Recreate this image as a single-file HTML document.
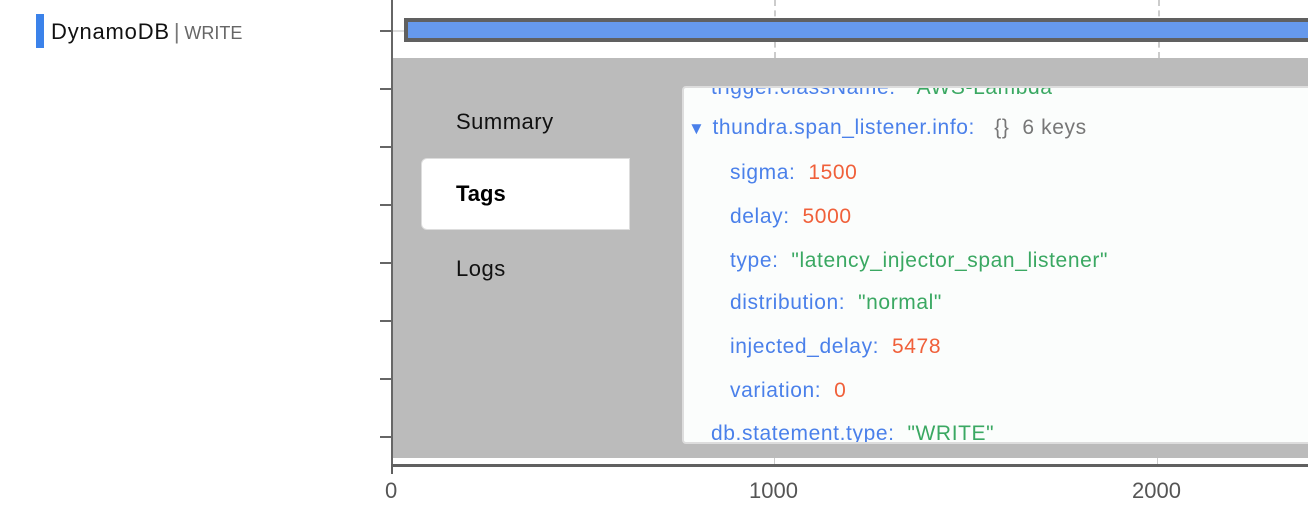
<!DOCTYPE html>
<html><head><style>
body{margin:0;width:1308px;height:530px;overflow:hidden;background:#fff;font-family:"Liberation Sans",sans-serif;position:relative}
.a{position:absolute}
.t{position:absolute;left:380px;width:12px;height:2px;background:#666}
.l{position:absolute;font-size:21px;letter-spacing:0.6px;white-space:nowrap;line-height:24px}
.k{color:#4a80ea}.g{color:#3aa862}.o{color:#f0603a}.n{color:#777}
</style></head><body>
<div class="a" style="left:36px;top:14px;width:8px;height:34px;background:#3b82ea"></div>
<div class="a" style="left:51px;top:17px;font-size:22px;letter-spacing:0.8px;color:#111;line-height:30px">DynamoDB<span style="color:#777;margin:0 4px">|</span><span style="color:#666;font-size:18px;letter-spacing:0">WRITE</span></div>
<div class="a" style="left:391px;top:0;width:2px;height:466px;background:#666"></div>
<div class="t" style="top:30px"></div><div class="t" style="top:88px"></div><div class="t" style="top:146px"></div><div class="t" style="top:204px"></div><div class="t" style="top:262px"></div><div class="t" style="top:320px"></div><div class="t" style="top:378px"></div><div class="t" style="top:436px"></div>
<div class="a" style="left:774px;top:0;height:58px;border-left:2px dashed #ccc"></div>
<div class="a" style="left:1158px;top:0;height:58px;border-left:2px dashed #ccc"></div>
<div class="a" style="left:393px;top:30px;width:12px;border-top:2px dashed #ddd"></div>
<div class="a" style="left:404px;top:18px;width:910px;height:16px;background:#6699ec;border:4px solid #606060"></div>
<div class="a" style="left:393px;top:58px;width:915px;height:400px;background:#bbb"></div>
<div class="a" style="left:456px;top:109px;font-size:22px;letter-spacing:0.5px;color:#111">Summary</div>
<div class="a" style="left:421px;top:158px;width:209px;height:72px;background:#fff;border-radius:6px 0 0 6px;border:1px solid #ddd;box-sizing:border-box"></div>
<div class="a" style="left:456px;top:181px;font-size:22px;color:#000;font-weight:bold">Tags</div>
<div class="a" style="left:456px;top:256px;font-size:22px;letter-spacing:0.5px;color:#111">Logs</div>
<div class="a" style="left:682px;top:86px;width:630px;height:358px;background:#fbfdfc;border:2px solid #ddd;border-radius:4px;box-sizing:border-box;overflow:hidden">
<div class="l" style="left:27px;top:-12px"><span class="k">trigger.className:</span>&nbsp; <span class="g">"AWS-Lambda"</span></div>
<div class="l" style="left:4px;top:28px"><span class="k" style="font-size:17px">▼</span><span class="k" style="margin-left:7px">thundra.span_listener.info:</span>&nbsp;&nbsp; <span class="n">{}&nbsp; 6 keys</span></div>
<div class="l" style="left:46px;top:73px"><span class="k">sigma:</span>&nbsp; <span class="o">1500</span></div>
<div class="l" style="left:46px;top:117px"><span class="k">delay:</span>&nbsp; <span class="o">5000</span></div>
<div class="l" style="left:46px;top:161px"><span class="k">type:</span>&nbsp; <span class="g">"latency_injector_span_listener"</span></div>
<div class="l" style="left:46px;top:203px"><span class="k">distribution:</span>&nbsp; <span class="g">"normal"</span></div>
<div class="l" style="left:46px;top:247px"><span class="k">injected_delay:</span>&nbsp; <span class="o">5478</span></div>
<div class="l" style="left:46px;top:291px"><span class="k">variation:</span>&nbsp; <span class="o">0</span></div>
<div class="l" style="left:27px;top:334px"><span class="k">db.statement.type:</span>&nbsp; <span class="g">"WRITE"</span></div>
</div>
<div class="a" style="left:774px;top:458px;width:1px;height:8px;background:#ccc"></div>
<div class="a" style="left:1157px;top:458px;width:1px;height:8px;background:#ccc"></div>
<div class="a" style="left:391px;top:464px;width:917px;height:3px;background:#606060"></div>
<div class="a" style="left:391px;top:466px;width:2px;height:8px;background:#606060"></div>
<div class="a" style="left:385px;top:478px;font-size:22px;color:#555">0</div>
<div class="a" style="left:749px;top:478px;font-size:22px;color:#555">1000</div>
<div class="a" style="left:1132px;top:478px;font-size:22px;color:#555">2000</div>
</body></html>
